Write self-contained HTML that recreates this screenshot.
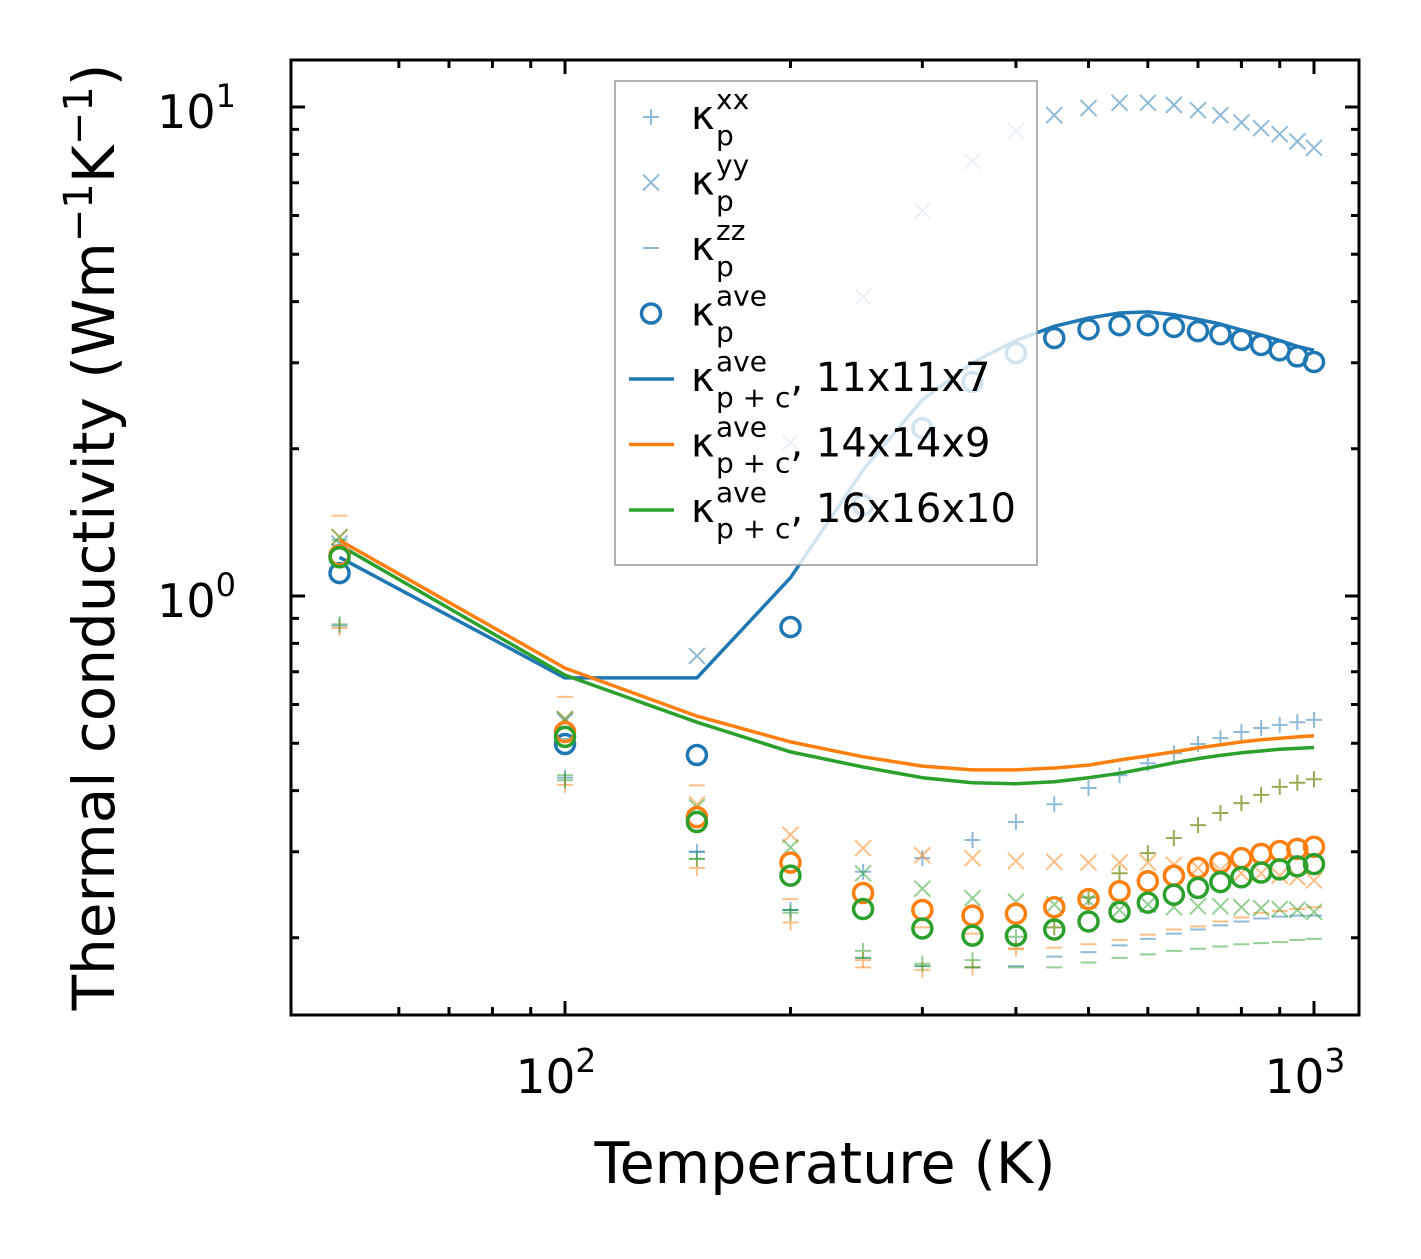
<!DOCTYPE html>
<html><head><meta charset="utf-8"><style>
body{margin:0;background:#fff}
svg{font-family:"DejaVu Sans","Liberation Sans",sans-serif}
</style></head><body>
<svg id="chart" width="1421" height="1254" viewBox="0 0 1421 1254">
<rect x="0" y="0" width="1421" height="1254" fill="#fff"/>
<g id="marks"></g>
<g id="axes"></g>
</svg>
<script>
const temps=[50,100,150,200,250,300,350,400,450,500,550,600,650,700,750,800,850,900,950,1000];
const blueXX=[0.87,0.425,0.30,0.228,0.273,0.291,0.317,0.345,0.375,0.405,0.430,0.455,0.477,0.498,0.512,0.527,0.537,0.545,0.552,0.558];
const blueYY=[1.28,0.555,0.754,2.06,4.09,6.13,7.75,8.93,9.62,9.95,10.2,10.2,10.1,9.85,9.62,9.3,9.05,8.8,8.5,8.25];
const blueZZ=[1.27,0.51,0.30,0.228,0.182,0.175,0.174,0.175,0.183,0.187,0.193,0.199,0.204,0.208,0.212,0.216,0.219,0.221,0.222,0.222];
const blueAve=[1.114,0.498,0.473,0.864,1.535,2.205,2.74,3.14,3.37,3.51,3.58,3.58,3.55,3.48,3.43,3.34,3.26,3.18,3.09,3.01];
const blueLine=[1.20,0.68,0.68,1.09,1.81,2.52,3.00,3.33,3.56,3.70,3.79,3.81,3.76,3.68,3.60,3.50,3.42,3.33,3.24,3.18];
const orangeXX=[0.86,0.411,0.278,0.215,0.180,0.172,0.174,0.19,0.21,0.242,0.271,0.298,0.320,0.340,0.360,0.377,0.392,0.407,0.415,0.422];
const orangeYY=[1.32,0.56,0.375,0.325,0.305,0.295,0.291,0.287,0.286,0.285,0.285,0.285,0.282,0.278,0.275,0.271,0.271,0.268,0.266,0.262];
const orangeZZ=[1.46,0.622,0.41,0.24,0.174,0.21,0.204,0.19,0.191,0.194,0.198,0.203,0.208,0.211,0.216,0.22,0.225,0.227,0.229,0.231];
const orangeAve=[1.21,0.527,0.353,0.285,0.247,0.228,0.222,0.224,0.231,0.240,0.249,0.261,0.268,0.278,0.285,0.291,0.297,0.301,0.304,0.307];
const orangeLine=[1.30,0.712,0.568,0.503,0.469,0.449,0.441,0.441,0.445,0.451,0.462,0.471,0.480,0.489,0.496,0.503,0.508,0.512,0.515,0.518];
const greenXX=[0.875,0.42,0.29,0.225,0.188,0.177,0.18,0.201,0.21,0.242,0.271,0.298,0.320,0.340,0.360,0.377,0.392,0.407,0.415,0.422];
const greenYY=[1.32,0.56,0.37,0.306,0.271,0.252,0.241,0.237,0.234,0.238,0.228,0.234,0.231,0.232,0.232,0.231,0.230,0.229,0.228,0.226];
const greenZZ=[1.3,0.43,0.29,0.228,0.182,0.175,0.174,0.174,0.174,0.178,0.182,0.185,0.188,0.19,0.192,0.194,0.195,0.196,0.198,0.199];
const greenAve=[1.20,0.515,0.345,0.268,0.229,0.209,0.202,0.202,0.208,0.216,0.226,0.236,0.245,0.253,0.26,0.266,0.272,0.276,0.28,0.283];
const greenLine=[1.27,0.689,0.552,0.48,0.447,0.425,0.415,0.413,0.417,0.425,0.434,0.445,0.456,0.465,0.472,0.478,0.482,0.486,0.488,0.490];
const xTickVals=[100,1000];
const xTickExp=["2","3"];
const yTickVals=[1,10];
const yTickExp=["0","1"];

const L=291,R=1359,T=60,B=1015;
function X(t){return 565+749*Math.log10(t/100);}
function Y(v){return 596-489*Math.log10(v);}
const NS="http://www.w3.org/2000/svg";
const marks=document.getElementById('marks'), axes=document.getElementById('axes');
function mk(tag,attrs,parent){const e=document.createElementNS(NS,tag);for(const k in attrs)e.setAttribute(k,attrs[k]);parent.appendChild(e);return e;}
const C={blue:'#1f77b4',orange:'#ff7f0e',green:'#2ca02c'};
function drawMarker(type,x,y,col,op,parent){
  let e;
  if(type==='+') e=mk('path',{d:`M${x-8} ${y}H${x+8}M${x} ${y-8}V${y+8}`,stroke:col,'stroke-width':2,'stroke-opacity':op,fill:'none'},parent);
  else if(type==='x') e=mk('path',{d:`M${x-8} ${y-8}L${x+8} ${y+8}M${x-8} ${y+8}L${x+8} ${y-8}`,stroke:col,'stroke-width':2,'stroke-opacity':op,fill:'none'},parent);
  else if(type==='_') e=mk('path',{d:`M${x-8} ${y}H${x+8}`,stroke:col,'stroke-width':2,'stroke-opacity':op,fill:'none'},parent);
  else e=mk('circle',{cx:x,cy:y,r:9.5,stroke:col,'stroke-width':3.5,fill:'none'},parent);
  return e;
}
const series=[
 ['blue','+',blueXX],['blue','x',blueYY],['blue','_',blueZZ],
 ['orange','+',orangeXX],['orange','x',orangeYY],['orange','_',orangeZZ],
 ['green','+',greenXX],['green','x',greenYY],['green','_',greenZZ]];
series.forEach(([c,t,arr])=>{
  const g=mk('g',{},marks);
  
  
  arr.forEach((v,i)=>{const m=drawMarker(t,X(temps[i]),Y(v),C[c],0.5,g);
    
    });
});
[['blue',blueLine],['orange',orangeLine],['green',greenLine]].forEach(([c,arr])=>{
  const p=mk('polyline',{points:arr.map((v,i)=>X(temps[i]).toFixed(1)+','+Y(v).toFixed(1)).join(' '),stroke:C[c],'stroke-width':3.5,fill:'none','stroke-linejoin':'round'},marks);
  
  
});
[['blue',blueAve],['orange',orangeAve],['green',greenAve]].forEach(([c,arr])=>{
  const g=mk('g',{},marks);
  
  
  arr.forEach((v,i)=>{const m=drawMarker('o',X(temps[i]),Y(v),C[c],1,g);
    
    });
});
// legend
const lg=mk('g',{},axes);


mk('rect',{x:615,y:81,width:422,height:484,fill:'#fff','fill-opacity':0.8,stroke:'#999','stroke-width':1.5},lg);
const entries=[
 ['+','blue',0.5,'xx',''],['x','blue',0.5,'yy',''],['_','blue',0.5,'zz',''],['o','blue',1,'ave',''],
 ['line','blue',1,'ave',', 11x11x7'],['line','orange',1,'ave',', 14x14x9'],['line','green',1,'ave',', 16x16x10']];
entries.forEach((e,i)=>{
  const cy=117+i*65.5;
  const g=mk('g',{},lg);
  
  
  if(e[0]==='line') mk('path',{d:`M629 ${cy}H674`,stroke:C[e[1]],'stroke-width':3.5},g);
  else drawMarker(e[0],651,cy,C[e[1]],e[2],g);
  const t=mk('text',{x:691,y:cy+12,'font-size':40,fill:'#000'},g);
  const sub=e[0]==='line'?'p + c':'p';
  let h=`κ<tspan font-size="28" dy="-20" x="716">${e[3]}</tspan><tspan font-size="28" dy="36" x="716">${sub}</tspan>`;
  if(e[4]) h+=`<tspan dy="-16">${e[4]}</tspan>`;
  t.innerHTML=h;
});
// frame & ticks
const fr=mk('rect',{x:L,y:T,width:R-L,height:B-T,fill:'none',stroke:'#000','stroke-width':3},axes);


let tk='';
const xMinor=[60,70,80,90,200,300,400,500,600,700,800,900];
xTickVals.forEach(v=>{const x=X(v);tk+=`M${x} ${B}v-14M${x} ${T}v14`;});
xMinor.forEach(v=>{const x=X(v);tk+=`M${x} ${B}v-8M${x} ${T}v8`;});
const yMinor=[0.2,0.3,0.4,0.5,0.6,0.7,0.8,0.9,2,3,4,5,6,7,8,9];
yTickVals.forEach(v=>{const y=Y(v);tk+=`M${L} ${y}h14M${R} ${y}h-14`;});
yMinor.forEach(v=>{const y=Y(v);tk+=`M${L} ${y}h8M${R} ${y}h-8`;});
const tp=mk('path',{d:tk,stroke:'#000','stroke-width':3},axes);


xTickVals.forEach((v,i)=>{const t=mk('text',{x:X(v)-9,y:1093,'font-size':47,'text-anchor':'middle'},axes);
  t.innerHTML=`10<tspan font-size="33" dy="-21">${xTickExp[i]}</tspan>`;
  
  });
yTickVals.forEach((v,i)=>{const t=mk('text',{x:236,y:Y(v)+21,'font-size':46,'text-anchor':'end'},axes);
  t.innerHTML=`10<tspan font-size="32" dy="-21">${yTickExp[i]}</tspan>`;
  
  });
const xl=mk('text',{x:825,y:1183,'font-size':57,'text-anchor':'middle'},axes);
xl.textContent='Temperature (K)';


const yl=mk('text',{x:0,y:0,'font-size':58,'text-anchor':'middle',transform:'translate(114,537) rotate(-90)'},axes);
yl.innerHTML='Thermal conductivity (Wm<tspan font-size="40" dy="-22">−1</tspan><tspan dy="22">K</tspan><tspan font-size="40" dy="-22">−1</tspan><tspan dy="22">)</tspan>';


</script>
</body></html>
